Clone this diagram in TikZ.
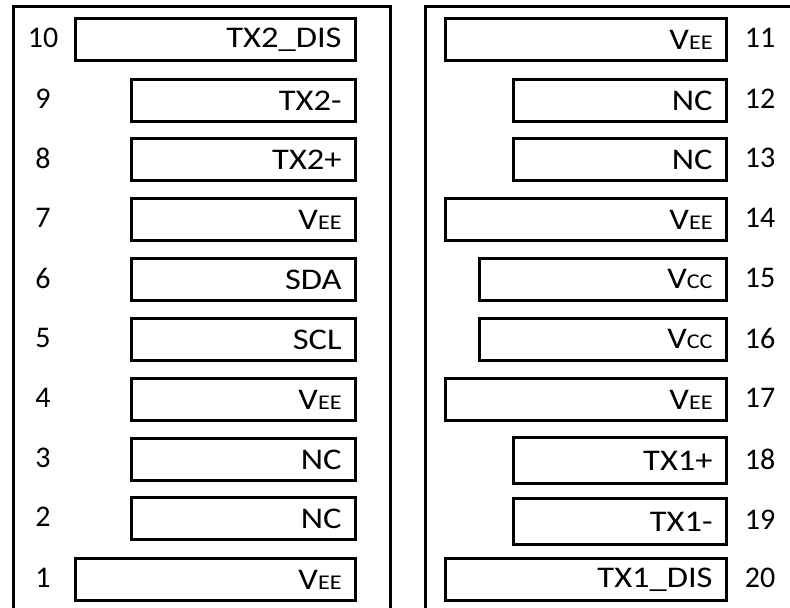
\documentclass[tikz,border=0pt]{standalone}
\usepackage{fontspec}
\setmainfont{Carlito}
\newfontfamily\labfont[FakeStretch=1.15]{Carlito}
\usetikzlibrary{positioning}
\newcommand{\smc}[1]{{\fontsize{10.5pt}{12pt}\selectfont #1}}

\begin{document}
\begin{tikzpicture}[
  x=0.5pt, y=-0.5pt,
  font=\fontsize{15pt}{18pt}\selectfont,
  frame/.style={draw, line width=1.5pt},
  pinbox/.style={draw, line width=1.4pt, anchor=north east, minimum height=21pt,
    inner xsep=7pt, inner ysep=0pt, text width=#1, align=right,
    font=\labfont\fontsize{15pt}{18pt}\selectfont},
  pinno/.style={inner sep=0pt}]

\clip (0,0) rectangle (790,608);
\fill[white] (0,0) rectangle (790,608);

% connector outlines
\draw[frame] (13,7) rectangle (390,640);
\draw[frame] (425,7) rectangle (820,640);

% left row, pins 10..1
\node[pinbox=126pt] (p10) at (357,17) {TX2\_DIS};
\node[pinbox=98pt] (p9) at (357,78) {TX2-};
\node[pinbox=98pt] (p8) at (357,137) {TX2+};
\node[pinbox=98pt] (p7) at (357,197) {V\smc{EE}};
\node[pinbox=98pt] (p6) at (357,257) {SDA};
\node[pinbox=98pt] (p5) at (357,317) {SCL};
\node[pinbox=98pt] (p4) at (357,377) {V\smc{EE}};
\node[pinbox=98pt] (p3) at (357,437) {NC};
\node[pinbox=98pt] (p2) at (357,496) {NC};
\node[pinbox=126pt] (p1) at (357,557) {V\smc{EE}};

\node[pinno] (n10) at (43,38) {10};
\node[pinno] (n9) at (43,99) {9};
\node[pinno] (n8) at (43,158) {8};
\node[pinno] (n7) at (43,218) {7};
\node[pinno] (n6) at (43,278) {6};
\node[pinno] (n5) at (43,338) {5};
\node[pinno] (n4) at (43,398) {4};
\node[pinno] (n3) at (43,458) {3};
\node[pinno] (n2) at (43,517) {2};
\node[pinno] (n1) at (43,578) {1};

% right row, pins 11..20
\node[pinbox=126.5pt] (p11) at (728,17) {V\smc{EE}};
\node[pinbox=92.5pt] (p12) at (728,78) {NC};
\node[pinbox=92.5pt] (p13) at (728,137) {NC};
\node[pinbox=126.5pt] (p14) at (728,197) {V\smc{EE}};
\node[pinbox=109.5pt] (p15) at (728,257) {V\smc{CC}};
\node[pinbox=109.5pt] (p16) at (728,317) {V\smc{CC}};
\node[pinbox=126.5pt] (p17) at (728,377) {V\smc{EE}};
\node[pinbox=92.5pt, minimum height=23pt] (p18) at (728,436) {TX1+};
\node[pinbox=92.5pt, minimum height=23pt] (p19) at (728,497) {TX1-};
\node[pinbox=126.5pt] (p20) at (728,557) {TX1\_DIS};

\node[pinno] (n11) at (760,38) {11};
\node[pinno] (n12) at (760,99) {12};
\node[pinno] (n13) at (760,158) {13};
\node[pinno] (n14) at (760,218) {14};
\node[pinno] (n15) at (760,278) {15};
\node[pinno] (n16) at (760,338) {16};
\node[pinno] (n17) at (760,398) {17};
\node[pinno] (n18) at (760,459) {18};
\node[pinno] (n19) at (760,520) {19};
\node[pinno] (n20) at (760,578) {20};
\end{tikzpicture}
\end{document}
